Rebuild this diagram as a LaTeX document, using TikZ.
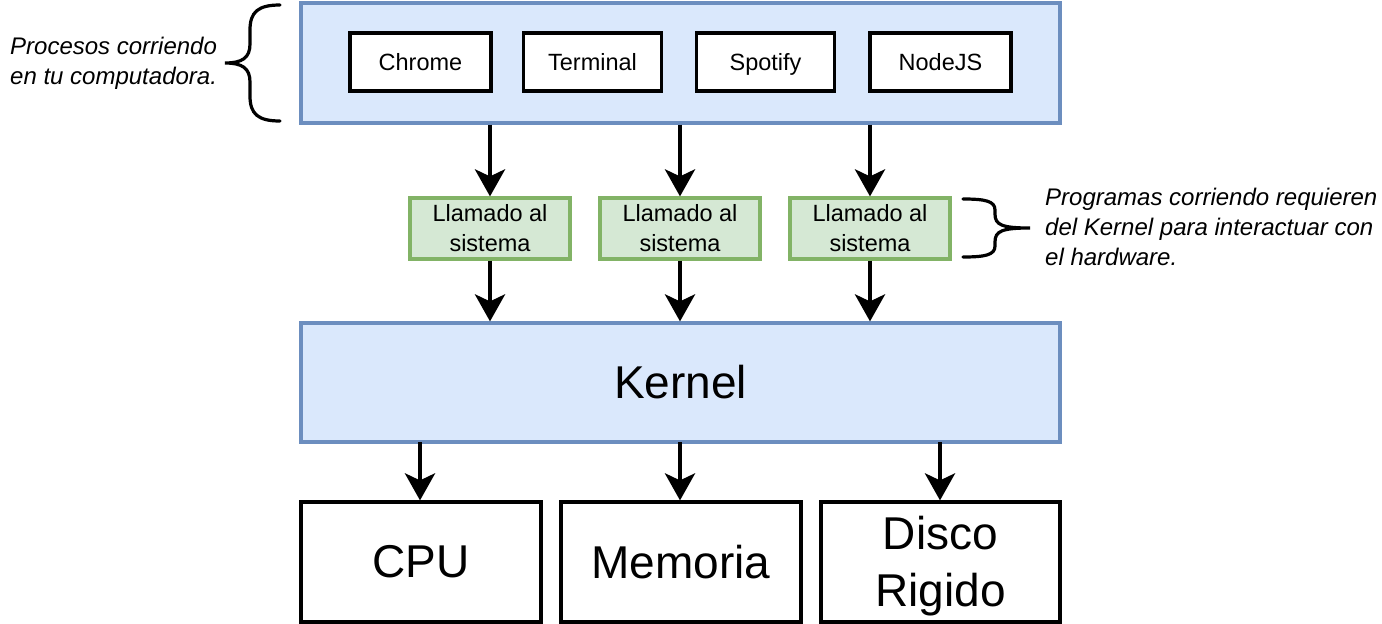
\documentclass[tikz,border=0pt]{standalone}
\usepackage{fontspec}
\setmainfont{Liberation Sans}
\usetikzlibrary{arrows.meta}
\definecolor{bluefill}{HTML}{DAE8FC}
\definecolor{bluestroke}{HTML}{6C8EBF}
\definecolor{greenfill}{HTML}{D5E8D4}
\definecolor{greenstroke}{HTML}{82B366}
\begin{document}
\begin{tikzpicture}[x=1pt,y=-1pt,
  bluebox/.style={draw=bluestroke,fill=bluefill,line width=3.2pt,inner sep=0pt},
  procbox/.style={draw=black,fill=white,line width=3.2pt,minimum width=138pt,minimum height=58pt,inner sep=0pt,text height=21.3pt,text depth=5pt,font=\fontsize{23.5}{30}\selectfont},
  callbox/.style={draw=greenstroke,fill=greenfill,line width=3.2pt,minimum width=160pt,minimum height=61pt,inner sep=0pt,align=center,font=\fontsize{23.5}{30}\selectfont},
  hwbox/.style={draw=black,fill=white,line width=3.2pt,minimum width=240pt,minimum height=120pt,inner sep=0pt,align=center,font=\fontsize{46}{57}\selectfont},
  note/.style={align=left,inner sep=0pt,font=\fontsize{24}{30}\selectfont\itshape},
  flow/.style={line width=4.5pt,-{Stealth[length=27pt,width=30pt,inset=7pt]}},
  bracepath/.style={line width=3.2pt,line cap=round}]
\useasboundingbox (0,0) rectangle (1382,624);
% process container
\node[bluebox,minimum width=759pt,minimum height=120pt] (top) at (680.5,63) {};
\node[procbox,minimum width=141pt] (chrome) at (420.5,62) {Chrome};
\node[procbox] (terminal) at (592.5,62) {Terminal};
\node[procbox] (spotify) at (765.5,62) {Spotify};
\node[procbox,minimum width=141pt] (nodejs) at (940.5,62) {NodeJS};
% system calls
\node[callbox] (c1) at (490,228.5) {Llamado al\\sistema};
\node[callbox] (c2) at (680,228.5) {Llamado al\\sistema};
\node[callbox] (c3) at (870,228.5) {Llamado al\\sistema};
% kernel
\node[bluebox,minimum width=759pt,minimum height=119pt,font=\fontsize{46}{57}\selectfont] (kernel) at (680.5,382.5) {Kernel};
% hardware
\node[hwbox] (cpu) at (421,562) {CPU};
\node[hwbox] (mem) at (681,562) {Memoria};
\node[hwbox,minimum width=239pt] (disk) at (940.5,562) {\rule{0pt}{0.905em}Disco\\Rigido};
% arrows
\foreach \c in {c1,c2,c3} {
  \draw[flow] (top.south -| \c) -- (\c.north);
  \draw[flow] (\c.south) -- (kernel.north -| \c);
}
\foreach \h/\x in {cpu/420,mem/680,disk/940} {
  \coordinate (k\h) at (\x,442);
  \draw[flow] (k\h) -- (k\h |- \h.north);
}
% notes
\node[note,anchor=west] (leftnote) at (10,63) {Procesos corriendo\\en tu computadora.};
\node[note,anchor=west] (rightnote) at (1045,227) {Programas corriendo requieren\\del Kernel para interactuar con\\el hardware.};
% braces
\coordinate (lb) at (225,63);
\draw[bracepath] (280,5) .. controls (258,5) and (250,12) .. (250,30) -- (250,44)
  .. controls (250,58) and (242,63) .. (lb)
  .. controls (242,63) and (250,68) .. (250,82) -- (250,96)
  .. controls (250,114) and (258,121) .. (280,121);
\coordinate (rb) at (1030,228);
\draw[bracepath] (963,199) .. controls (985,199) and (995,201) .. (995,210) -- (995,214)
  .. controls (995,225) and (1002,228) .. (rb)
  .. controls (1002,228) and (995,231) .. (995,242) -- (995,246)
  .. controls (995,255) and (985,257) .. (963,257);
\end{tikzpicture}
\end{document}
